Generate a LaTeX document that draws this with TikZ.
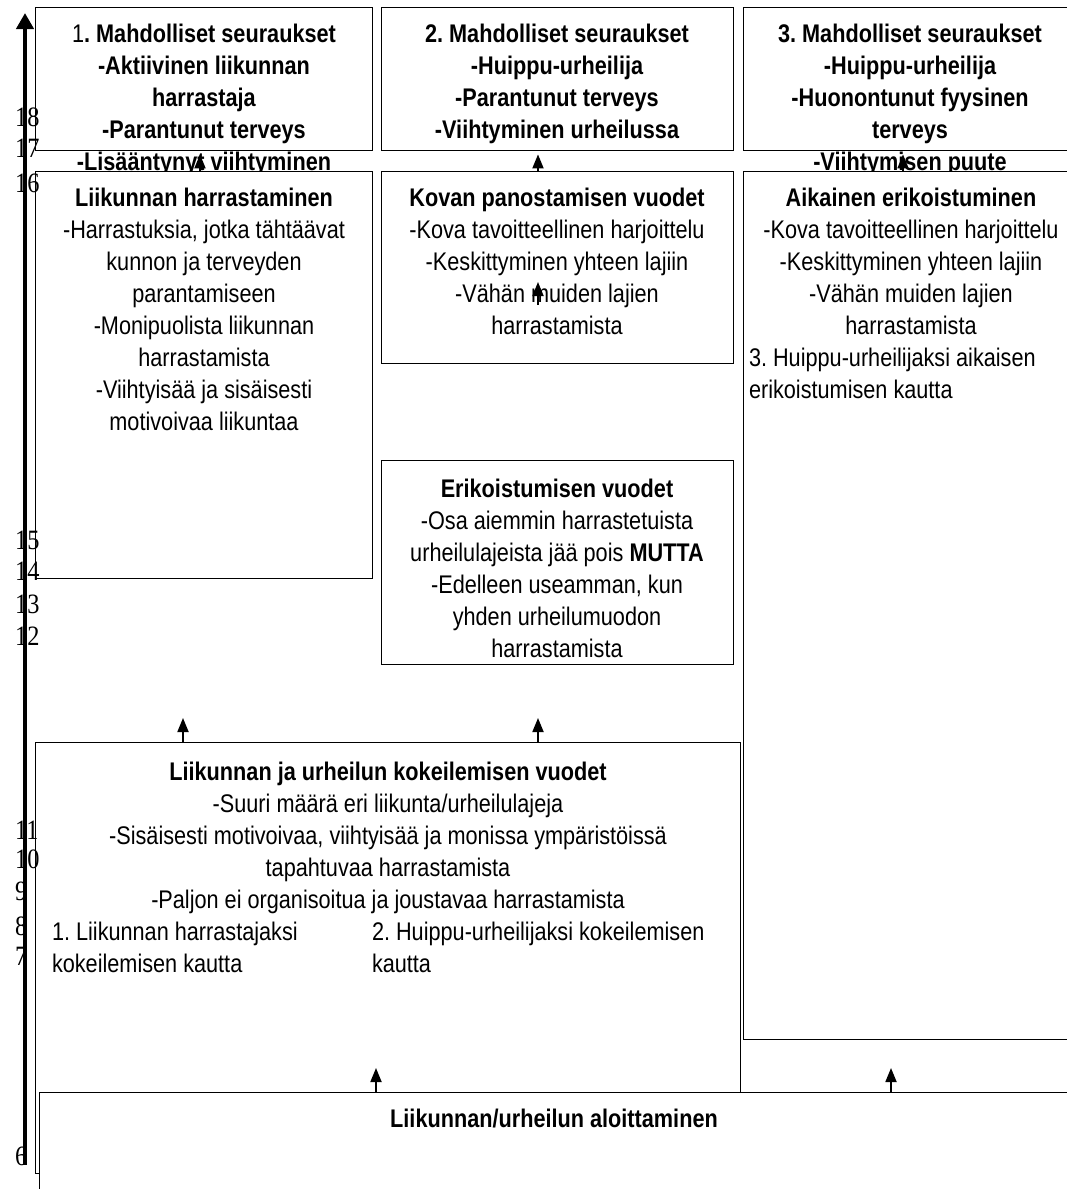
\documentclass[tikz,border=0pt]{standalone}
\usepackage{fontspec}
\setmainfont[FakeStretch=0.85]{Liberation Sans}
\newfontfamily\numfont[FakeStretch=0.87]{Liberation Serif}
\usetikzlibrary{arrows.meta}
\newcommand{\fl}{\rule{0pt}{20pt}}
\frenchspacing
\begin{document}
\begin{tikzpicture}[x=1pt,y=-1pt,
  box/.style={draw, line width=1.4pt, fill=white, rectangle, inner sep=0pt, anchor=north west},
  t/.style={inner sep=0pt, outer sep=0pt, font=\fontsize{25.5}{32}\selectfont},
  tc/.style={t, align=center, anchor=north},
  tl/.style={t, align=left, anchor=north west},
  num/.style={inner sep=0pt, font=\numfont\fontsize{28}{28}\selectfont, anchor=west},
  arr/.style={line width=1.8pt, -{Triangle[width=11pt,length=14pt]}},
  axis/.style={line width=4pt, -{Triangle[width=17pt,length=16pt]}},
]
\useasboundingbox (0,0) rectangle (1066,1189);

% top boxes
\node[box, minimum width=337pt, minimum height=143pt] (b1) at (35,7) {};
\node[box, minimum width=352pt, minimum height=143pt] (b2) at (381,7) {};
\node[box, minimum width=334pt, minimum height=143pt] (b3) at (743,7) {};

\node[tc, font=\fontsize{25.5}{32}\selectfont\bfseries] (t1) at (204,22) {\fl\mdseries 1\bfseries. Mahdolliset seuraukset\\-Aktiivinen liikunnan\\harrastaja\\-Parantunut terveys\\-Lisääntynyt viihtyminen};
\node[tc, font=\fontsize{25.5}{32}\selectfont\bfseries] (t2) at (557,22) {\fl 2. Mahdolliset seuraukset\\-Huippu-urheilija\\-Parantunut terveys\\-Viihtyminen urheilussa};
\node[tc, font=\fontsize{25.5}{32}\selectfont\bfseries] (t3) at (910,22) {\fl 3. Mahdolliset seuraukset\\-Huippu-urheilija\\-Huonontunut fyysinen\\terveys\\-Viihtymisen puute};

% middle boxes
\node[box, minimum width=337pt, minimum height=407pt] (harr) at (35,171) {};
\node[box, minimum width=352pt, minimum height=192pt] (kov) at (381,171) {};
\node[box, minimum width=352pt, minimum height=204pt] (eri) at (381,460) {};
\node[box, minimum width=334pt, minimum height=868pt] (aik) at (743,171) {};
\node[box, minimum width=705pt, minimum height=431pt] (kok) at (35,742) {};
\node[box, minimum width=1041pt, minimum height=110pt] (alo) at (39,1092) {};

\node[tc] (th) at (204,186) {\fl\textbf{Liikunnan harrastaminen}\\-Harrastuksia, jotka tähtäävat\\kunnon ja terveyden\\parantamiseen\\-Monipuolista liikunnan\\harrastamista\\-Viihtyisää ja sisäisesti\\motivoivaa liikuntaa};
\node[tc] (tk) at (557,186) {\fl\textbf{Kovan panostamisen vuodet}\\-Kova tavoitteellinen harjoittelu\\-Keskittyminen yhteen lajiin\\-Vähän muiden lajien\\harrastamista};
\node[tc] (te) at (557,477) {\fl\textbf{Erikoistumisen vuodet}\\-Osa aiemmin harrastetuista\\urheilulajeista jää pois \textbf{MUTTA}\\-Edelleen useamman, kun\\yhden urheilumuodon\\harrastamista};
\node[tc] (ta) at (911,186) {\fl\textbf{Aikainen erikoistuminen}\\-Kova tavoitteellinen harjoittelu\\-Keskittyminen yhteen lajiin\\-Vähän muiden lajien\\harrastamista};
\node[tl] (ta2) at (749,346) {\fl 3. Huippu-urheilijaksi aikaisen\\erikoistumisen kautta};
\node[tc] (tko) at (388,760) {\fl\textbf{Liikunnan ja urheilun kokeilemisen vuodet}\\-Suuri määrä eri liikunta/urheilulajeja\\-Sisäisesti motivoivaa, viihtyisää ja monissa ympäristöissä\\tapahtuvaa harrastamista\\-Paljon ei organisoitua ja joustavaa harrastamista};
\node[tl] (tko1) at (52,920) {\fl 1. Liikunnan harrastajaksi\\kokeilemisen kautta};
\node[tl] (tko2) at (372,920) {\fl 2. Huippu-urheilijaksi kokeilemisen\\kautta};
\node[tc] (tal) at (554,1107) {\fl\textbf{Liikunnan/urheilun aloittaminen}};

% arrows
\coordinate (p1) at (200,171);
\coordinate (p2) at (538,171);
\coordinate (p3) at (903,171);
\coordinate (p4s) at (538,305);
\coordinate (p4e) at (538,282);
\coordinate (p5s) at (183,742);
\coordinate (p5e) at (183,718);
\coordinate (p6s) at (538,742);
\coordinate (p6e) at (538,718);
\coordinate (p7s) at (376,1092);
\coordinate (p7e) at (376,1068);
\coordinate (p8s) at (891,1092);
\coordinate (p8e) at (891,1068);
\draw[arr, shorten >=3pt] (p1) -- (p1 |- b1.south);
\draw[arr, shorten >=3pt] (p2) -- (p2 |- b2.south);
\draw[arr, shorten >=3pt] (p3) -- (p3 |- b3.south);
\draw[arr] (p4s) -- (p4e);
\draw[arr] (p5s) -- (p5e);
\draw[arr] (p6s) -- (p6e);
\draw[arr] (p7s) -- (p7e);
\draw[arr] (p8s) -- (p8e);

% axis
\coordinate (axb) at (25,1165);
\coordinate (axt) at (25,13);
\draw[axis] (axb) -- (axt);

% numbers
\node[num] (n18) at (15,117) {18};
\node[num] (n17) at (15,148) {17};
\node[num] (n16) at (15,183) {16};
\node[num] (n15) at (15,540) {15};
\node[num] (n14) at (15,571) {14};
\node[num] (n13) at (15,604) {13};
\node[num] (n12) at (15,636) {12};
\node[num] (n11) at (15,830) {11};
\node[num] (n10) at (15,859) {10};
\node[num] (n9) at (15,891) {9};
\node[num] (n8) at (15,926) {8};
\node[num] (n7) at (15,956) {7};
\node[num] (n6) at (15,1156) {6};
\end{tikzpicture}
\end{document}
